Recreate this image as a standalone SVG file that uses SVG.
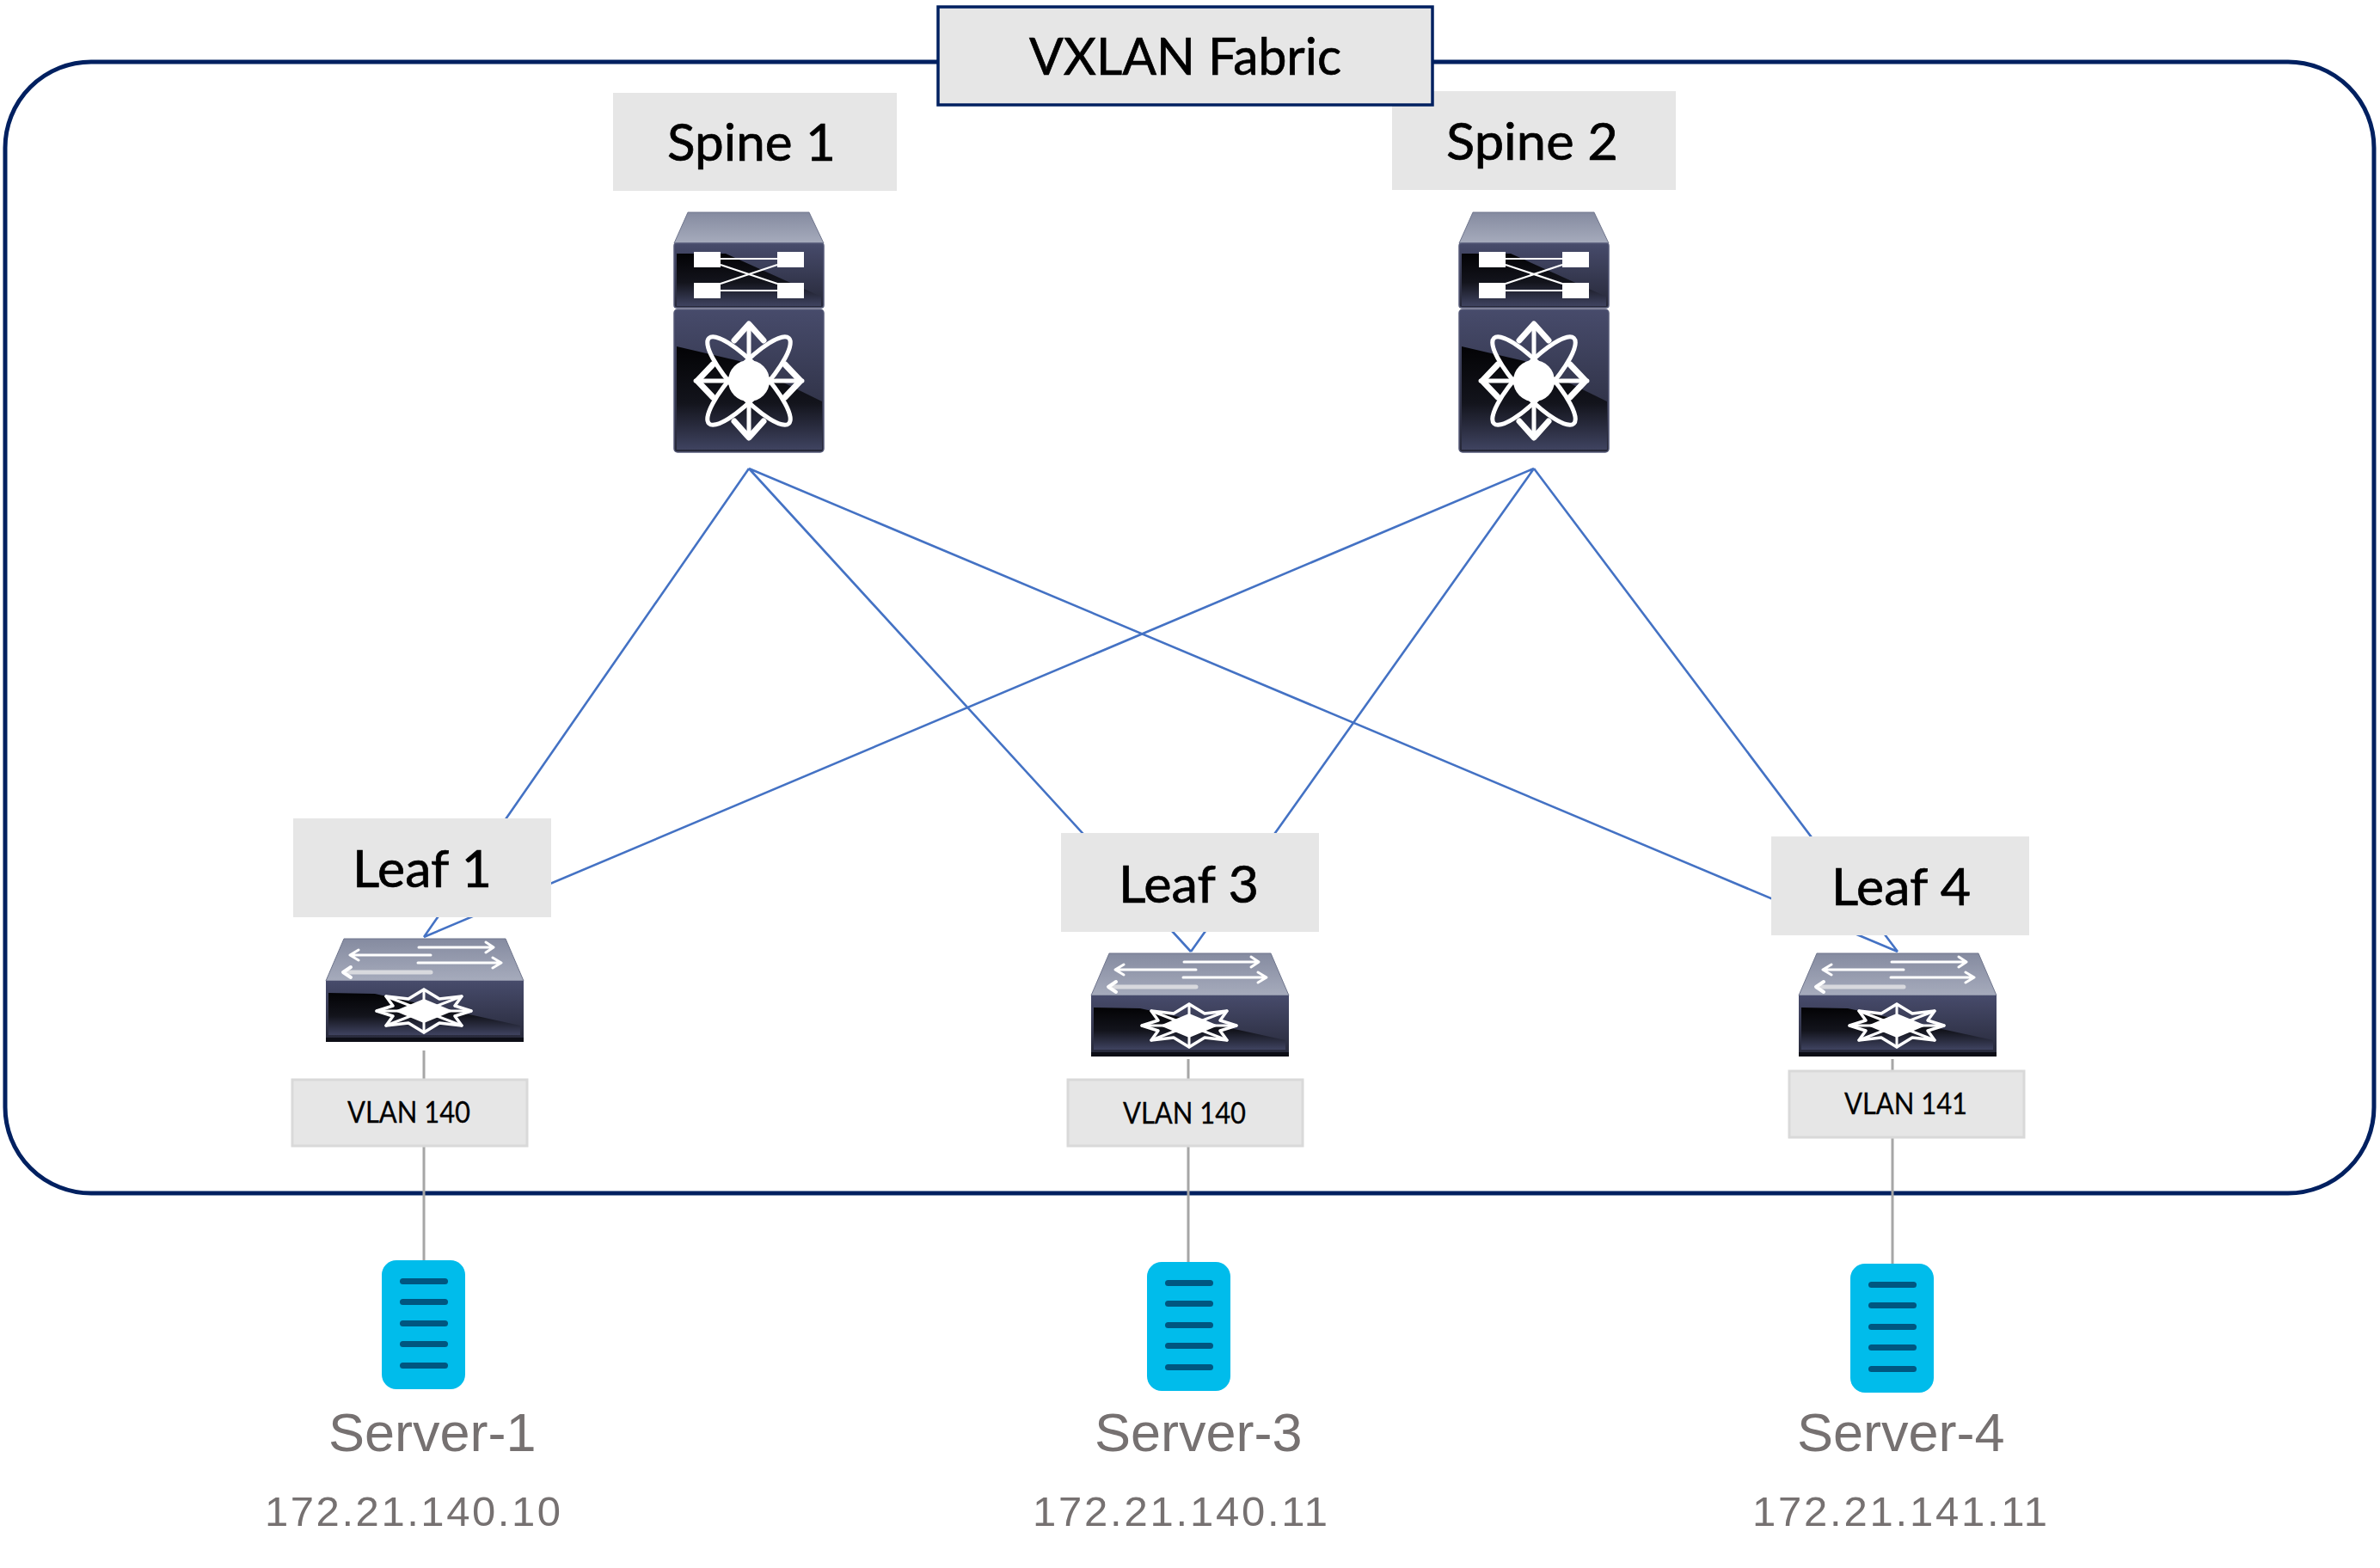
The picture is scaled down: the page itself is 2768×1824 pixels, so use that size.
<svg xmlns="http://www.w3.org/2000/svg" xmlns:xlink="http://www.w3.org/1999/xlink" width="2768" height="1824" viewBox="0 0 2768 1824">
<style>
.lab{fill:#e6e6e6}
.vlan{fill:#e6e6e6;stroke:#d9d9d9;stroke-width:3}
.cal{font-family:"Lato","Carlito","Liberation Sans",sans-serif;fill:#000}
.big{font-size:60px;stroke:#000;stroke-width:.7}
.small{font-size:34px;stroke:#000;stroke-width:.3}
.srv{font-family:"Liberation Sans",Arial,sans-serif;fill:#767171}
.name{font-size:63px}
.ip{font-size:49px}
.up{fill:none;stroke:#4472c4;stroke-width:2.6}
.down{fill:none;stroke:#a6a6a6;stroke-width:3}
.w{fill:none;stroke:#fff;stroke-linecap:round;stroke-linejoin:round}
</style>
<defs>
<linearGradient id="top" x1="0" y1="0" x2="0" y2="1"><stop offset="0" stop-color="#858ba0"/><stop offset="1" stop-color="#a6abbc"/></linearGradient>
<linearGradient id="panel" x1="0" y1="0" x2="0" y2="1"><stop offset="0" stop-color="#474b6b"/><stop offset="1" stop-color="#262838"/></linearGradient>
<linearGradient id="dark" x1="0" y1="0" x2="0" y2="1"><stop offset="0" stop-color="#030305"/><stop offset="0.55" stop-color="#13141c"/><stop offset="1" stop-color="#3f4360"/></linearGradient>
<g id="glyph">
<circle r="24" fill="#fff"/>
<ellipse rx="68" ry="18" transform="rotate(47)" fill="none" stroke="#fff" stroke-width="5"/>
<ellipse rx="68" ry="18" transform="rotate(-47)" fill="none" stroke="#fff" stroke-width="5"/>
<path class="w" stroke-width="5" d="M0-66V66M-62 0H62"/>
<path class="w" stroke-width="7" d="M-17-47 0-66 17-47M-17 47 0 66 17 47M-42-19-60 0-42 19M42-19 60 0 42 19"/>
</g>
<g id="leafglyph">
<path d="M-34 0 0-14 34 0 0 14Z" fill="#fff"/>
<path class="w" stroke-width="3.5" d="M-55 0-36-6-44-17-18-14 0-25 18-14 44-17 36-6 55 0 36 6 44 17 18 14 0 25-18 14-44 17-36 6Z"/>
<path class="w" stroke-width="3" d="M-55 0H55M0-25V25M-44-17 44 17M44-17-44 17"/>
</g>
<g id="spine">
<path d="M16 0H157L174 36H0Z" fill="url(#top)" stroke="#6f758c" stroke-width="1"/>
<rect x="0" y="36" width="174" height="75" rx="3" fill="url(#panel)" stroke="#555a78" stroke-width="1.5"/>
<path d="M3 48 60 48 171 98V109H3Z" fill="url(#dark)"/>
<rect x="0" y="113" width="174" height="166" rx="4" fill="url(#panel)" stroke="#555a78" stroke-width="1.5"/>
<path d="M3 156 76 173 172 220V276H3Z" fill="url(#dark)"/>
<g fill="#fff"><rect x="23" y="46" width="31" height="18"/><rect x="120" y="46" width="31" height="18"/><rect x="23" y="82" width="31" height="18"/><rect x="120" y="82" width="31" height="18"/></g>
<path fill="none" stroke="#fff" stroke-width="2.2" d="M54 54H120M54 91H120M54 61 120 83M54 83 120 61"/>
<use xlink:href="#glyph" href="#glyph" transform="translate(87 196)"/>
</g>
<g id="leaf">
<path d="M21 0H209L230 49H0Z" fill="url(#top)" stroke="#6f758c" stroke-width="1"/>
<rect x="0" y="49" width="230" height="71" fill="url(#panel)"/>
<path d="M3 63 57 64 226 101V112H3Z" fill="url(#dark)"/>
<rect x="0" y="115" width="230" height="5" fill="#0d0e16"/>
<g class="w"><path stroke-width="3" d="M108 10H192M186 4 195 10 186 16M122 19H30M38 13 28 19 38 25M107 28H201M194 22 204 28 194 34"/><path stroke="#d8d9de" stroke-width="5" d="M122 39H26"/><path stroke-width="4" d="M29 33 20 39 29 45"/></g>
<use xlink:href="#leafglyph" href="#leafglyph" transform="translate(114 84)"/>
</g>
<g id="server">
<rect width="97" height="150" rx="17" fill="#00bceb"/>
<g fill="#005680"><rect x="21" y="21" width="56" height="7" rx="3.5"/><rect x="21" y="45" width="56" height="7" rx="3.5"/><rect x="21" y="70" width="56" height="7" rx="3.5"/><rect x="21" y="94" width="56" height="7" rx="3.5"/><rect x="21" y="119" width="56" height="7" rx="3.5"/></g>
</g>
</defs>
<rect width="2768" height="1824" fill="#fff"/>
<g id="fabric"><rect x="6" y="72" width="2755" height="1316" rx="100" fill="none" stroke="#002060" stroke-width="5"/></g>
<g id="connectors">
<path class="up" d="M871 545 493 1090M871 545 1385 1107M871 545 2207 1107M1784 545 493 1090M1784 545 1385 1107M1784 545 2207 1107"/>
<path class="down" d="M493 1222V1466M1382 1232V1468M2201 1232V1470"/>
</g>
<g id="spine-1"><rect class="lab" x="713" y="108" width="330" height="114"/><text class="cal big" x="776" y="187" textLength="196" lengthAdjust="spacingAndGlyphs">Spine 1</text><use xlink:href="#spine" href="#spine" transform="translate(784 247)"/></g>
<g id="spine-2"><rect class="lab" x="1619" y="106" width="330" height="115"/><text class="cal big" x="1682" y="186" textLength="200" lengthAdjust="spacingAndGlyphs">Spine 2</text><use xlink:href="#spine" href="#spine" transform="translate(1697 247)"/></g>
<g id="fabric-label"><rect x="1091" y="8" width="575" height="114" fill="#e6e6e6" stroke="#002060" stroke-width="3.5"/><text class="cal big" x="1197" y="87" textLength="363" lengthAdjust="spacingAndGlyphs">VXLAN Fabric</text></g>
<g id="leaf-1"><rect class="lab" x="341" y="952" width="300" height="115"/><text class="cal big" x="410" y="1032" textLength="162" lengthAdjust="spacingAndGlyphs">Leaf 1</text><use xlink:href="#leaf" href="#leaf" transform="translate(379 1092)"/></g>
<g id="leaf-3"><rect class="lab" x="1234" y="969" width="300" height="115"/><text class="cal big" x="1301" y="1050" textLength="163" lengthAdjust="spacingAndGlyphs">Leaf 3</text><use xlink:href="#leaf" href="#leaf" transform="translate(1269 1109)"/></g>
<g id="leaf-4"><rect class="lab" x="2060" y="973" width="300" height="115"/><text class="cal big" x="2130" y="1053" textLength="162" lengthAdjust="spacingAndGlyphs">Leaf 4</text><use xlink:href="#leaf" href="#leaf" transform="translate(2092 1109)"/></g>
<g id="vlan-1"><rect class="vlan" x="340" y="1256" width="273" height="77"/><text class="cal small" x="404" y="1306" textLength="143" lengthAdjust="spacingAndGlyphs">VLAN 140</text></g>
<g id="vlan-3"><rect class="vlan" x="1242" y="1256" width="273" height="77"/><text class="cal small" x="1306" y="1307" textLength="143" lengthAdjust="spacingAndGlyphs">VLAN 140</text></g>
<g id="vlan-4"><rect class="vlan" x="2081" y="1246" width="273" height="77"/><text class="cal small" x="2145" y="1296" textLength="143" lengthAdjust="spacingAndGlyphs">VLAN 141</text></g>
<g id="server-1"><use xlink:href="#server" href="#server" transform="translate(444 1466)"/><text class="srv name" x="382" y="1688">Server-1</text><text class="srv ip" x="308" y="1775" textLength="344">172.21.140.10</text></g>
<g id="server-3"><use xlink:href="#server" href="#server" transform="translate(1334 1468)"/><text class="srv name" x="1273" y="1688">Server-3</text><text class="srv ip" x="1201" y="1775" textLength="343">172.21.140.11</text></g>
<g id="server-4"><use xlink:href="#server" href="#server" transform="translate(2152 1470)"/><text class="srv name" x="2090" y="1688">Server-4</text><text class="srv ip" x="2038" y="1775" textLength="343">172.21.141.11</text></g>
</svg>
